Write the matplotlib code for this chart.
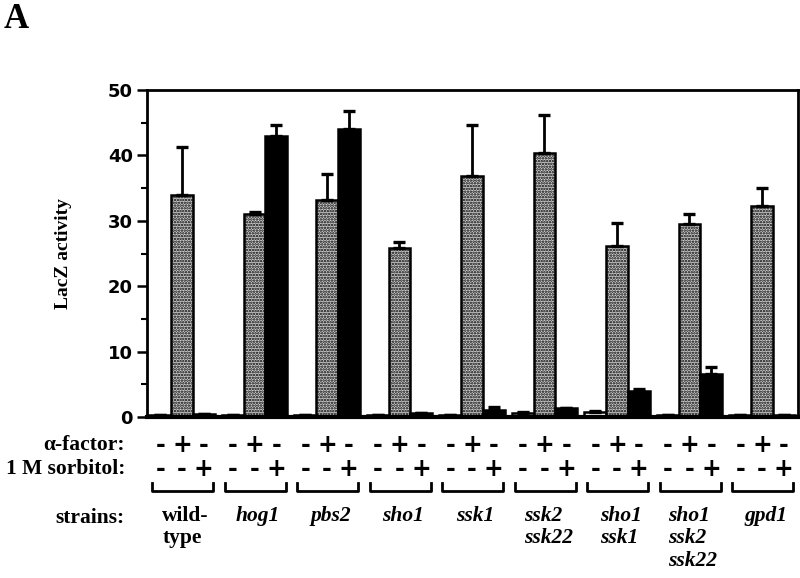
import matplotlib
matplotlib.use("Agg")
import matplotlib.pyplot as plt
import matplotlib.transforms as mtransforms
import numpy as np

strains = ["wild-\ntype", "hog1", "pbs2", "sho1", "ssk1", "ssk2\nssk22",
           "sho1\nssk1", "sho1\nssk2\nssk22", "gpd1"]
italic = [False, True, True, True, True, True, True, True, True]
none_vals = [0.3, 0.3, 0.3, 0.3, 0.3, 0.6, 0.7, 0.3, 0.3]
none_err = [0, 0, 0, 0, 0, 0.2, 0.2, 0, 0]
alpha_vals = [33.9, 31.0, 33.2, 25.8, 36.8, 40.4, 26.2, 29.5, 32.3]
alpha_err = [7.4, 0.3, 3.9, 1.0, 7.8, 5.8, 3.5, 1.5, 2.7]
sorb_vals = [0.5, 43.0, 44.0, 0.6, 1.1, 1.4, 4.0, 6.6, 0.3]
sorb_err = [0, 1.6, 2.8, 0, 0.4, 0, 0.3, 1.0, 0]
alpha_signs = ["-", "+", "-"]
sorb_signs = ["-", "-", "+"]
yticks = [0, 10, 20, 30, 40, 50]

W, H = 800, 578
fig = plt.figure(figsize=(W / 100, H / 100), dpi=100)
ax = fig.add_axes([147 / W, 1 - 417 / H, (798 - 147) / W, (417 - 90) / H])

x = np.arange(len(strains))
bw = 0.3
kw = dict(width=bw, edgecolor="black", linewidth=1.8, zorder=2)
ax.bar(x - bw, none_vals, color="white", **kw)
plt.rcParams['hatch.linewidth'] = 1.2
ax.bar(x, alpha_vals, color="#cfcfcf", hatch="......", **kw)
ax.bar(x + bw, sorb_vals, color="black", **kw)

ekw = dict(fmt="none", ecolor="black", elinewidth=2.0, capsize=4.5, capthick=2.4, zorder=3)
ax.errorbar(x - bw, none_vals, yerr=[np.zeros(len(x)), none_err], **ekw)
ax.errorbar(x, alpha_vals, yerr=[np.zeros(len(x)), alpha_err], **ekw)
ax.errorbar(x + bw, sorb_vals, yerr=[np.zeros(len(x)), sorb_err], **ekw)

ax.set_xlim(-0.483, 8.497)
ax.set_ylim(0, 50)
ax.set_yticks(yticks)
ax.set_yticks(np.arange(5, 50, 10), minor=True)
ax.set_yticklabels([str(v) for v in yticks], fontsize=13, fontweight="bold",
                   family="DejaVu Sans")
ax.tick_params(axis="y", which="major", direction="out", length=7, width=1.8, pad=3)
ax.tick_params(axis="y", which="minor", direction="out", length=4, width=1.5)
ax.set_xticks([])
for s in ["left", "top", "right"]:
    ax.spines[s].set_linewidth(2.0)
ax.spines["bottom"].set_linewidth(3.0)
ax.set_ylabel("LacZ activity", fontsize=14, fontweight="bold", family="Liberation Serif",
              labelpad=26)

serif = "Liberation Serif"
fig.text(4 / W, 1 - 20 / H, "A", fontsize=25, fontweight="bold", family=serif,
         ha="left", va="center")

trans = mtransforms.blended_transform_factory(ax.transData, fig.transFigure)

def fy(py):
    return 1 - py / H

fs = 15.5
fig.text(125 / W, fy(445), "α-factor:", fontsize=fs, fontweight="bold", family=serif,
         ha="right", va="center")
fig.text(125 / W, fy(469), "1 M sorbitol:", fontsize=fs, fontweight="bold", family=serif,
         ha="right", va="center")
fig.text(125 / W, fy(518), "strains:", fontsize=fs, fontweight="bold", family=serif,
         ha="right", va="center")

for i in range(len(strains)):
    for j, off in enumerate([-bw, 0, bw]):
        fig.text(i + off, fy(445), alpha_signs[j], transform=trans, fontsize=17,
                 fontweight="bold", family="DejaVu Sans", ha="center", va="center")
        fig.text(i + off, fy(469), sorb_signs[j], transform=trans, fontsize=17,
                 fontweight="bold", family="DejaVu Sans", ha="center", va="center")
    x0, x1 = i - 0.41, i + 0.43
    fig.add_artist(plt.Line2D([x0, x0, x1, x1], [fy(483), fy(491), fy(491), fy(483)],
                              transform=trans, color="black", linewidth=2.0))
    fig.text(i + 0.05, fy(506), strains[i], transform=trans, fontsize=fs,
             fontweight="bold", style="italic" if italic[i] else "normal",
             family=serif, ha="center", va="top", multialignment="left",
             linespacing=1.15)

fig.savefig("out.png", dpi=100)
